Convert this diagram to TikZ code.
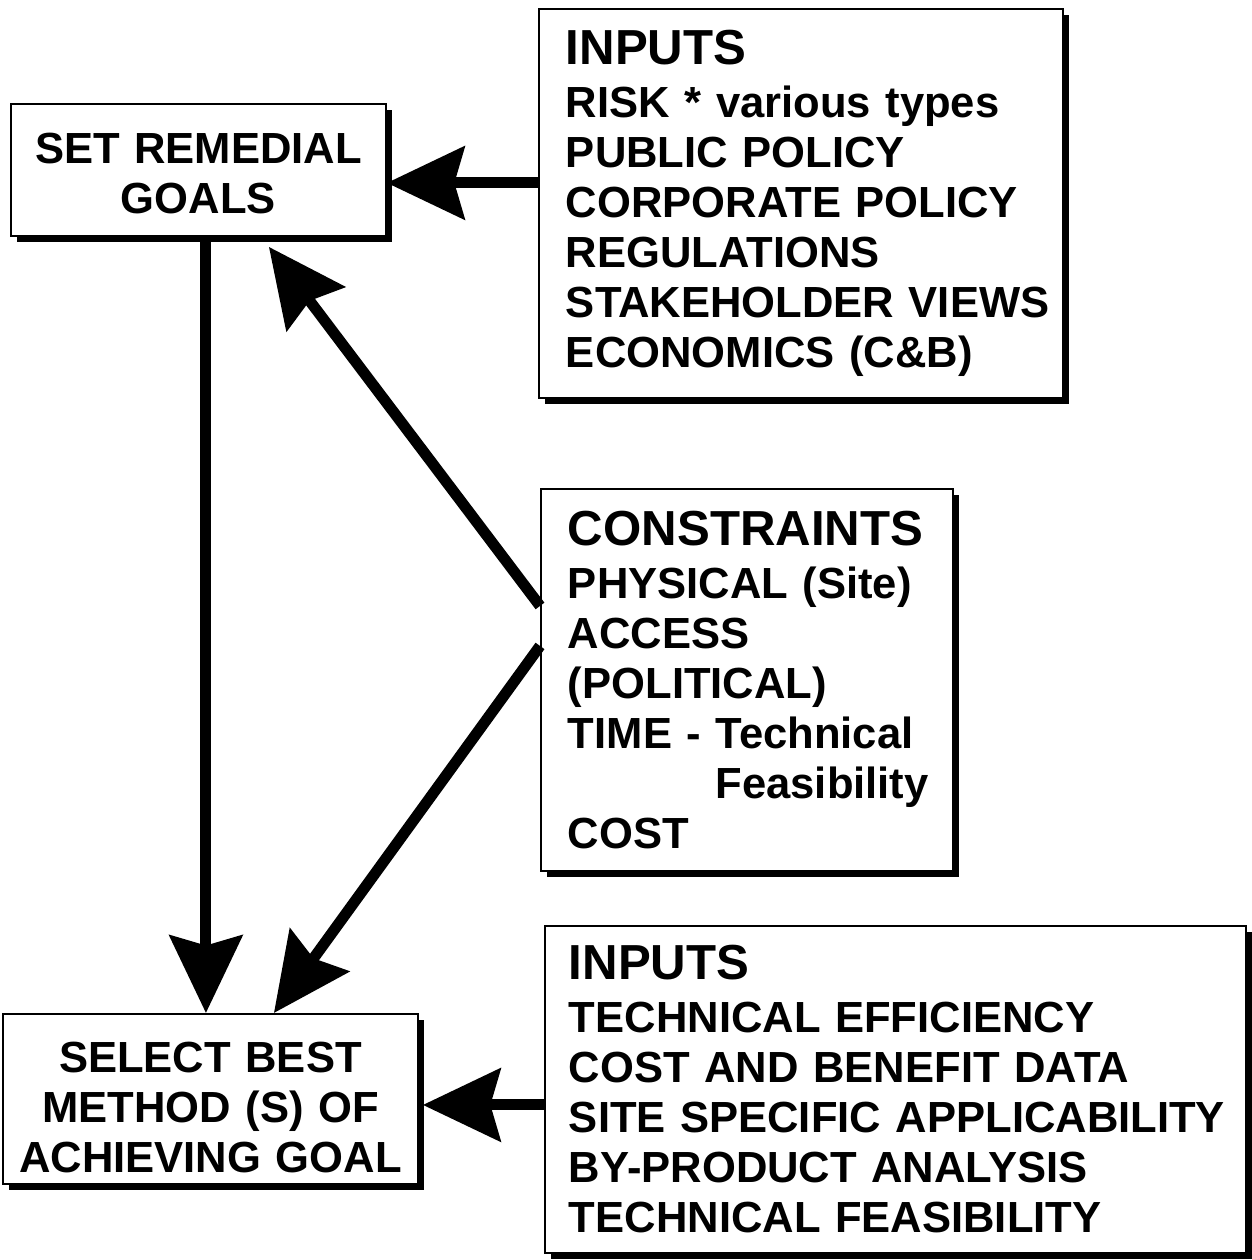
\documentclass[tikz,border=0pt]{standalone}
\usepackage{fontspec}
\setmainfont{Liberation Sans}
\usetikzlibrary{arrows.meta,shadows}
\newcommand\headtxt{\fontsize{28}{30}\selectfont}

\tikzset{
  panel/.style={draw, line width=1.1pt, fill=white, anchor=north west,
    inner xsep=0pt, inner ysep=0pt, align=left,
    font=\bfseries\fontsize{24.8}{28.45}\selectfont,
    drop shadow={shadow xshift=0.12cm, shadow yshift=-0.12cm, fill=black, opacity=1}},
  bigarrow/.style={line width=0.22cm, -{Stealth[length=1.55cm, width=1.45cm, inset=0.2cm]}}
}

\begin{document}
\begin{tikzpicture}[x=0.02cm,y=-0.02cm]
\useasboundingbox (0,0) rectangle (1251,1260);
\node[panel,align=center,text width=7.5cm,minimum height=2.64cm] (goal) at (10,103) {\rule{0pt}{0.74cm}SET REMEDIAL\\GOALS};
\node[panel,text width=10.48cm,minimum height=7.78cm] (inputs) at (538,8) {\leftskip=0.54cm
{\headtxt INPUTS}\\[0.06cm]
RISK * various types\\
PUBLIC POLICY\\
CORPORATE POLICY\\
REGULATIONS\\
STAKEHOLDER VIEWS\\
ECONOMICS (C\&B)\par};
\node[panel,text width=8.24cm,minimum height=7.64cm] (limits) at (540,488) {\leftskip=0.54cm
{\headtxt CONSTRAINTS}\\[0.06cm]
PHYSICAL (Site)\\
ACCESS\\
(POLITICAL)\\
TIME - Technical\\
\phantom{TIME - }Feasibility\\
COST\par};
\node[panel,text width=14.02cm,minimum height=6.54cm] (techin) at (544,925) {\leftskip=0.48cm
{\headtxt INPUTS}\\[0.06cm]
TECHNICAL EFFICIENCY\\
COST AND BENEFIT DATA\\
SITE SPECIFIC APPLICABILITY\\
BY-PRODUCT ANALYSIS\\
TECHNICAL FEASIBILITY\par};
\node[panel,align=center,text width=8.3cm,minimum height=3.4cm] (select) at (2,1013) {\rule{0pt}{0.95cm}SELECT BEST\\METHOD (S) OF\\ACHIEVING GOAL};

\draw[bigarrow] ([yshift=0.41cm]inputs.west) coordinate (a0) -- (a0 -| goal.east);
\draw[bigarrow] ([xshift=0.15cm]goal.south) coordinate (b0) -- (b0 |- select.north);
\draw[bigarrow] ([yshift=1.48cm]limits.west) -- ([xshift=1.41cm,yshift=-0.2cm]goal.south);
\draw[bigarrow] ([yshift=0.68cm]limits.west) -- ([xshift=1.27cm]select.north);
\draw[bigarrow] ([yshift=-0.31cm]techin.west) coordinate (e0) -- ([xshift=0.08cm]e0 -| select.east);
\end{tikzpicture}
\end{document}
